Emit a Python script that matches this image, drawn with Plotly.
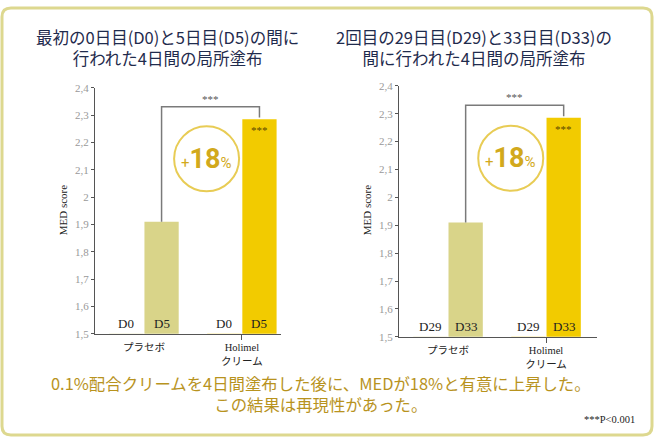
import plotly.graph_objects as go

W, H = 654, 443

# ---- data ----
groups = ["プラセボ", "Holimel<br>クリーム"]
days_left = ["D0", "D5"]
days_right = ["D29", "D33"]
before_vals = [1.5, 1.5]          # D0 / D29 baseline (no visible bar)
after_left = [1.91, 2.285]        # D5
after_right = [1.91, 2.285]       # D33
y_tickvals = [1.5, 1.6, 1.7, 1.8, 1.9, 2.0, 2.1, 2.2, 2.3, 2.4]
y_ticktext = ["1,5", "1,6", "1,7", "1,8", "1,9", "2", "2,1", "2,2", "2,3", "2,4"]
titles = ["最初の0日目(D0)と5日目(D5)の間に<br>行われた4日間の局所塗布",
          "2回目の29日目(D29)と33日目(D33)の<br>間に行われた4日間の局所塗布"]
increase_pct = "18"
sig_mark = "***"
footer = "0.1%配合クリームを4日間塗布した後に、MEDが18%と有意に上昇した。<br>この結果は再現性があった。"
note = "***P<0.001"

# ---- style ----
placebo_col = "#d9d489"
holimel_col = "#f2cb00"
gold_text = "#b8931e"
navy = "#1f2b4d"
serif = "Liberation Serif, Noto Sans CJK JP, serif"
sans = "Noto Sans CJK JP, Noto Sans, sans-serif"
offsets = [-0.18, 0.18]
bar_w = 0.35


def px_x(p):
    return p / W


def px_y(p):
    return 1 - p / H


fig = go.Figure()

panels = [
    dict(xa="x", ya="y", days=days_left, after=after_left,
         xdom=[px_x(95), px_x(281)], ydom=[px_y(337), px_y(84)], xr=[-0.5, 1.4],
         title_x=167, ytitle_x=63),
    dict(xa="x2", ya="y2", days=days_right, after=after_right,
         xdom=[px_x(399), px_x(597)], ydom=[px_y(340), px_y(82)], xr=[-0.5, 1.52],
         title_x=474, ytitle_x=367),
]

annotations = []
shapes = []

for k, p in enumerate(panels):
    idx = list(range(len(groups)))
    fig.add_trace(go.Bar(x=[i + offsets[0] for i in idx], y=before_vals, width=bar_w,
                         marker=dict(color=[placebo_col, holimel_col], line=dict(width=0)),
                         xaxis=p["xa"], yaxis=p["ya"], showlegend=False, hoverinfo="skip"))
    fig.add_trace(go.Bar(x=[i + offsets[1] for i in idx], y=p["after"], width=bar_w,
                         marker=dict(color=[placebo_col, holimel_col], line=dict(width=0)),
                         xaxis=p["xa"], yaxis=p["ya"], showlegend=False))
    xref = p["xa"]
    yref = p["ya"]
    for i in idx:
        for j, d in enumerate(p["days"]):
            annotations.append(dict(x=i + offsets[j], y=1.5, xref=xref, yref=yref,
                                    text=d, showarrow=False, xanchor="center", yanchor="bottom", yshift=1,
                                    font=dict(family=serif, size=13, color="#222")))
    top = 2.33
    x_l = 0 + offsets[1]
    x_r = 1 + offsets[1]
    shapes.append(dict(type="path", xref=xref, yref=yref,
                       path=f"M {x_l},{p['after'][0]} L {x_l},{top} L {x_r},{top} L {x_r},{p['after'][1] + 0.006}",
                       line=dict(color="#7a7a7a", width=1.5)))
    annotations.append(dict(x=(x_l + x_r) / 2, y=top, xref=xref, yref=yref, text=sig_mark,
                            showarrow=False, xanchor="center", yanchor="bottom", yshift=0,
                            font=dict(family=serif, size=11, color="#555")))
    annotations.append(dict(x=x_r, y=p["after"][1], xref=xref, yref=yref, text=sig_mark,
                            showarrow=False, xanchor="center", yanchor="top", yshift=-3,
                            font=dict(family=serif, size=11, color="#5a4800")))
    cx, cy = 0.64, 2.14
    shapes.append(dict(type="circle", xref=xref, yref=yref, xsizemode="pixel", ysizemode="pixel",
                       xanchor=cx, yanchor=cy, x0=-32.5, x1=32.5, y0=-32.5, y1=32.5,
                       line=dict(color="#e8cc55", width=2), fillcolor="rgba(255,255,255,0)"))
    annotations.append(dict(x=cx, y=cy, xref=xref, yref=yref, showarrow=False,
                            xanchor="center", yanchor="middle",
                            text=f"<span style='font-size:15px'>+</span><b>{increase_pct}</b><span style='font-size:15px'>%</span>",
                            font=dict(family="Roboto, sans-serif", size=27, color="#d2a91c")))
    annotations.append(dict(x=px_x(p["ytitle_x"]), y=px_y(210), xref="paper", yref="paper",
                            text="MED score", textangle=-90, showarrow=False,
                            xanchor="center", yanchor="middle",
                            font=dict(family=serif, size=11, color="#222")))
    annotations.append(dict(x=px_x(p["title_x"]), y=px_y(43), xref="paper", yref="paper",
                            text=titles[k], showarrow=False, align="center",
                            xanchor="center", yanchor="middle",
                            font=dict(family=sans, size=16.5, color=navy)))

    ax_common = dict(showgrid=False, zeroline=False, showline=True, linecolor="#555", linewidth=1)
    fig.update_layout(**{
        ("xaxis" if k == 0 else "xaxis2"): dict(
            domain=p["xdom"], range=p["xr"], anchor=yref, tickvals=idx, ticktext=groups,
            ticks="", ticklabelstandoff=4, tickfont=dict(family=serif, size=10.5, color="#222"),
            minor=dict(tickvals=[1.0], ticks="outside", ticklen=5, tickcolor="#555"),
            fixedrange=True, **ax_common),
        ("yaxis" if k == 0 else "yaxis2"): dict(
            domain=p["ydom"], range=[1.5, 2.4], anchor=xref, tickvals=y_tickvals,
            ticktext=y_ticktext, ticks="outside", ticklen=3, tickcolor="#555",
            tickfont=dict(family=serif, size=11, color="#999"), **ax_common),
    })

annotations.append(dict(x=px_x(321), y=px_y(398), xref="paper", yref="paper", text=footer,
                        showarrow=False, align="center", xanchor="center", yanchor="middle",
                        font=dict(family=sans, size=16.4, color=gold_text)))
annotations.append(dict(x=px_x(637), y=px_y(425), xref="paper", yref="paper", text=note,
                        showarrow=False, xanchor="right", yanchor="middle",
                        font=dict(family=serif, size=10.5, color="#222")))

x0, x1, y0, y1, r = 2, 652, 2, 441, 9
def P(x, y):
    return f"{px_x(x)},{px_y(y)}"
frame = (f"M {P(x0 + r, y0)} L {P(x1 - r, y0)} Q {P(x1, y0)} {P(x1, y0 + r)} "
         f"L {P(x1, y1 - r)} Q {P(x1, y1)} {P(x1 - r, y1)} L {P(x0 + r, y1)} "
         f"Q {P(x0, y1)} {P(x0, y1 - r)} L {P(x0, y0 + r)} Q {P(x0, y0)} {P(x0 + r, y0)} Z")
shapes.append(dict(type="path", xref="paper", yref="paper", path=frame,
                   line=dict(color="#ddd88f", width=3), layer="below"))

fig.update_layout(width=W, height=H, margin=dict(l=0, r=0, t=0, b=0),
                  paper_bgcolor="white", plot_bgcolor="rgba(0,0,0,0)",
                  barmode="overlay", annotations=annotations, shapes=shapes,
                  showlegend=False)

fig.write_html("out.html")
